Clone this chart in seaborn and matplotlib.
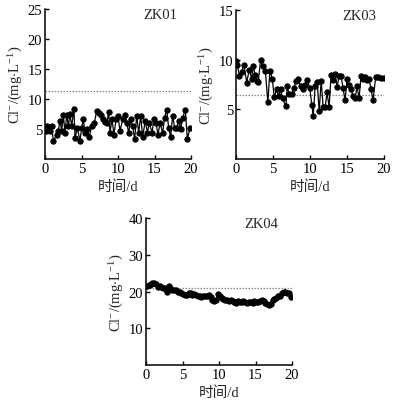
import matplotlib
matplotlib.use("Agg")
import matplotlib.pyplot as plt
import seaborn as sns
import pandas as pd

# ---------------- data ----------------
zk01_x = [0.10, 0.23, 0.68, 0.91, 1.14, 1.60, 1.83, 2.05, 2.28, 2.51, 2.74, 2.97, 3.20, 3.42,
          3.65, 3.97, 4.11, 4.43, 4.79, 5.02, 5.25, 5.48, 5.80, 6.07, 6.39, 6.76, 7.08, 7.35,
          7.63, 7.90, 8.17, 8.45, 8.72, 8.90, 9.18, 9.45, 9.73, 10.00, 10.27, 10.64, 10.96,
          11.19, 11.46, 11.74, 12.00, 12.28, 12.56, 12.83, 13.11, 13.38, 13.74, 14.02, 14.29,
          14.66, 14.93, 15.21, 15.48, 15.75, 16.12, 16.39, 16.67, 16.94, 17.21, 17.49, 17.76,
          18.04, 18.31, 18.58, 18.86, 19.22, 19.50, 19.86]
zk01_y = [4.7, 5.5, 4.7, 5.5, 3.0, 4.0, 4.7, 6.4, 4.7, 7.3, 4.4, 7.4, 5.5, 7.5,
          5.5, 8.3, 3.5, 5.2, 3.0, 5.2, 6.6, 4.4, 5.0, 3.7, 5.5, 6.0, 8.0, 7.6,
          7.3, 6.7, 6.2, 6.0, 7.8, 4.4, 6.6, 4.0, 6.6, 7.1, 4.7, 6.6, 7.4,
          6.0, 4.4, 6.6, 5.5, 3.3, 7.2, 4.4, 7.2, 3.7, 6.4, 4.4, 6.0,
          4.4, 6.7, 6.0, 4.0, 6.0, 4.4, 6.9, 8.2, 5.2, 3.7, 7.2, 5.2,
          5.2, 6.4, 5.0, 6.9, 8.2, 3.3, 5.2]

zk03_x = [0.00, 0.18, 0.45, 0.76, 1.08, 1.44, 1.80, 2.11, 2.34, 2.56, 2.79, 3.01, 3.33, 3.60,
          3.96, 4.31, 4.58, 4.90, 5.17, 5.48, 5.75, 6.02, 6.29, 6.74, 6.92, 7.19, 7.51, 7.82,
          8.09, 8.40, 8.72, 8.99, 9.30, 9.62, 9.98, 10.25, 10.43, 10.70, 10.97, 11.24, 11.51,
          11.78, 12.04, 12.31, 12.58, 12.85, 13.12, 13.39, 13.66, 13.93, 14.20, 14.47, 14.74,
          15.01, 15.28, 15.55, 15.82, 16.09, 16.36, 16.63, 16.90, 17.17, 17.44, 17.71, 17.98,
          18.25, 18.52, 18.88, 19.24, 19.64, 20.00]
zk03_y = [9.9, 9.5, 8.4, 8.8, 9.5, 7.7, 9.0, 8.1, 9.4, 8.5, 7.9, 7.8, 10.0, 9.4,
          8.9, 5.7, 8.9, 8.1, 6.2, 7.0, 6.3, 7.0, 6.1, 5.3, 7.3, 6.5, 6.5, 7.1,
          7.9, 8.1, 7.3, 7.0, 7.5, 8.0, 7.1, 5.4, 4.3, 7.3, 7.8, 4.8, 7.9,
          5.2, 5.2, 6.7, 5.2, 8.5, 8.0, 8.6, 7.2, 8.4, 8.4, 7.1, 5.9,
          8.1, 7.5, 7.0, 6.3, 6.1, 7.3, 6.1, 8.4, 8.1, 8.3, 8.0, 8.1,
          7.0, 5.9, 8.3, 8.3, 8.2, 8.2]

zk04_x = [0.10, 0.35, 0.60, 0.85, 1.10, 1.35, 1.60, 1.85, 2.10, 2.35, 2.60, 2.85, 3.10, 3.35,
          3.60, 3.85, 4.10, 4.35, 4.60, 4.85, 5.10, 5.35, 5.60, 5.85, 6.10, 6.35, 6.60, 6.85,
          7.10, 7.35, 7.60, 7.85, 8.10, 8.35, 8.60, 8.85, 9.10, 9.35, 9.60, 9.85, 10.10, 10.35,
          10.60, 10.85, 11.10, 11.35, 11.60, 11.85, 12.10, 12.35, 12.60, 12.85, 13.10, 13.35,
          13.60, 13.85, 14.10, 14.35, 14.60, 14.85, 15.10, 15.35, 15.60, 15.85, 16.10, 16.35,
          16.60, 16.85, 17.10, 17.35, 17.60, 17.85, 18.10, 18.35, 18.60, 18.85, 19.10, 19.35,
          19.60, 19.85]
zk04_y = [21.5, 21.7, 21.9, 22.2, 22.3, 22.0, 21.3, 21.6, 21.2, 21.0, 20.9, 19.8, 21.6, 21.0,
          20.5, 20.4, 20.3, 20.0, 19.9, 19.6, 19.4, 19.1, 19.0, 19.5, 19.6, 19.0, 19.2, 19.0,
          18.8, 18.7, 18.5, 18.8, 18.7, 18.9, 19.0, 18.5, 17.6, 17.3, 17.8, 19.3, 18.8, 18.3,
          18.0, 17.8, 17.6, 17.5, 17.6, 17.4, 17.2, 17.0, 17.4, 17.2, 17.1, 17.3,
          17.1, 17.0, 17.2, 17.1, 17.0, 17.5, 17.1, 17.2, 17.3, 17.6, 17.4, 17.0,
          16.6, 16.2, 16.5, 17.8, 18.0, 18.3, 18.7, 18.9, 19.5, 19.8, 20.0, 19.7,
          19.5, 18.6]

names = ["ZK01", "ZK03", "ZK04"]
limits = [11.3, 6.4, 20.9]
y_max = [25, 15, 40]
y_ticks = [[5, 10, 15, 20, 25], [5, 10, 15], [10, 20, 30, 40]]
x_ticks = [0, 5, 10, 15, 20]

# ---------------- style ----------------
sns.set_style("ticks")
plt.rcParams["font.family"] = ["Liberation Serif", "Noto Sans CJK SC", "DejaVu Sans"]
plt.rcParams["mathtext.fontset"] = "custom"
plt.rcParams["mathtext.rm"] = "Liberation Serif"
plt.rcParams["mathtext.it"] = "Liberation Serif:italic"
plt.rcParams["axes.unicode_minus"] = False

W, H = 399, 402
fig = plt.figure(figsize=(W / 100, H / 100), dpi=100)
fig.patch.set_facecolor("white")

# axes boxes in pixels: left, top, right, bottom
boxes = [(45, 10, 191, 160), (236, 11, 384, 160), (146, 219, 292, 366)]
series = [(zk01_x, zk01_y), (zk03_x, zk03_y), (zk04_x, zk04_y)]
title_x = [0.79, 0.83, 0.79]

for i, (box, (xs, ys)) in enumerate(zip(boxes, series)):
    l, t, r, b = box
    ax = fig.add_axes([l / W, (H - b) / H, (r - l) / W, (b - t) / H])
    df = pd.DataFrame({"day": xs, "cl": ys})
    ax.axhline(limits[i], color="#888888", linestyle=(0, (1.2, 1.2)), linewidth=0.9, zorder=1)
    sns.lineplot(data=df, x="day", y="cl", ax=ax, color="black", linewidth=0.9,
                 marker="o", markersize=3.8, markeredgecolor="black", sort=False,
                 zorder=3)
    ax.set_xlim(0, 20)
    ax.set_ylim(0, y_max[i])
    ax.set_xticks(x_ticks)
    ax.set_yticks(y_ticks[i])
    ax.tick_params(direction="in", length=3, width=1, labelsize=10.5, pad=2,
                   colors="black")
    for s in ["top", "right"]:
        ax.spines[s].set_visible(False)
    for s in ["left", "bottom"]:
        ax.spines[s].set_color("black")
        ax.spines[s].set_linewidth(1.1)
    ax.set_xlabel("时间/d", fontsize=10.5, labelpad=3)
    ax.set_ylabel(r"Cl$^{-}$/(mg$\cdot$L$^{-1}$)", fontsize=10.5, labelpad=2)
    ax.text(title_x[i], 1.005, names[i], transform=ax.transAxes, ha="center", va="top",
            fontsize=10.5)

fig.savefig("out.png", dpi=100, facecolor="white")
